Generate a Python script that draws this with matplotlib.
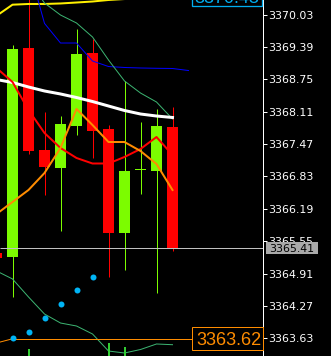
import matplotlib
matplotlib.use("Agg")
import matplotlib.pyplot as plt
from matplotlib.patches import Rectangle
from matplotlib.transforms import IdentityTransform

# ---------------- data ----------------
bar_idx = [-1, 0, 1, 2, 3, 4, 5, 6, 7, 8, 9, 10]
opens  = [3365.311, 3365.244, 3369.371, 3367.354, 3367.004, 3367.829, 3369.278, 3367.769, 3365.718, 3366.952, 3366.945, 3367.809]
highs  = [3365.400, 3369.431, 3370.450, 3368.106, 3368.026, 3369.741, 3369.545, 3367.843, 3368.719, 3367.908, 3368.165, 3368.204]
lows   = [3365.150, 3364.452, 3367.269, 3366.464, 3365.752, 3367.651, 3367.186, 3364.848, 3364.981, 3366.484, 3364.532, 3365.356]
closes = [3365.224, 3369.352, 3367.340, 3367.024, 3367.868, 3369.253, 3367.736, 3365.706, 3366.939, 3366.955, 3367.829, 3365.410]

yellow_idx = [-1, 0, 1, 2, 3, 4, 5, 6, 7, 8]
yellow_val = [3370.008, 3370.228, 3370.242, 3370.242, 3370.252, 3370.271, 3370.291, 3370.321, 3370.340, 3370.360]

blue_idx = [1, 2, 3, 4, 5, 6, 7, 8, 9, 10, 11]
blue_val = [3370.993, 3369.858, 3369.470, 3369.470, 3369.114, 3369.005, 3368.986, 3368.976, 3368.970, 3368.966, 3368.926]

env_up_idx = [1, 2, 3, 4, 5, 6, 7, 8, 9, 10]
env_up_val = [3370.716, 3370.261, 3370.024, 3369.866, 3369.589, 3369.134, 3368.719, 3368.481, 3368.303, 3367.967]

env_dn_idx = [-1, 0, 1, 2, 3, 4, 5, 6, 7, 8, 9, 10]
env_dn_val = [3364.961, 3364.803, 3364.447, 3364.110, 3363.932, 3363.873, 3363.715, 3363.378, 3363.339, 3363.408, 3363.517, 3363.503]

white_idx = [-1, 0, 1, 2, 3, 4, 5, 6, 7, 8, 9, 10]
white_val = [3368.748, 3368.689, 3368.600, 3368.521, 3368.462, 3368.392, 3368.313, 3368.224, 3368.135, 3368.066, 3368.026, 3367.997]

red_idx = [-1, 0, 1, 2, 3, 4, 5, 6, 7, 8, 9, 10]
red_val = [3368.976, 3368.699, 3368.145, 3367.690, 3367.394, 3367.196, 3367.087, 3367.087, 3367.216, 3367.374, 3367.611, 3367.255]

orange_idx = [-1, 0, 1, 2, 3, 4, 5, 6, 7, 8, 9, 10]
orange_val = [3366.088, 3366.326, 3366.563, 3366.899, 3367.394, 3368.165, 3367.848, 3367.512, 3367.512, 3367.334, 3367.077, 3366.563]

sar_idx = [0, 1, 2, 3, 4, 5]
sar_val = [3363.642, 3363.760, 3364.037, 3364.314, 3364.585, 3364.848]

hist_idx = [1, 6, 7]
hist_top = [3363.418, 3363.537, 3363.458]

level_idx = [-1, 0]
level_val = [3363.537, 3363.620]
level_price = 3363.62
bid_price = 3365.41
top_label_price = 3370.43

yticks = [3370.03, 3369.39, 3368.75, 3368.11, 3367.47, 3366.83, 3366.19,
          3365.55, 3364.91, 3364.27, 3363.63]

# ---------------- figure ----------------
W, H, DPI = 331, 356, 100
fig = plt.figure(figsize=(W / DPI, H / DPI), dpi=DPI, facecolor="black")
AX_W = 263
ax = fig.add_axes([0, 0, AX_W / W, 1])
ax.set_facecolor("black")
XMIN, XMAX = -0.78125, 15.65625
ax.set_xlim(XMIN, XMAX)
ax.set_ylim(3363.2796, 3370.3207)

PX = 72.0 / DPI  # points per pixel
BULL, BEAR = "#7CFC00", "#FF0000"
body_w = 11 / 16

for x, o, h, l, c in zip(bar_idx, opens, highs, lows, closes):
    col = BULL if c >= o else BEAR
    ax.vlines(x, l, h, color=col, lw=1 * PX, zorder=2)
    bottom = min(o, c)
    height = max(abs(c - o), 0.02)
    ax.bar(x, height, bottom=bottom, width=body_w, color=col, linewidth=0, zorder=3)

# indicator lines
ax.plot(yellow_idx, yellow_val, color="#FFF000", lw=2 * PX, zorder=4)
ax.plot(blue_idx, blue_val, color="#0000FF", lw=1 * PX, zorder=4)
ax.plot(env_up_idx, env_up_val, color="#3CB371", lw=1 * PX, zorder=4)
ax.plot(env_dn_idx, env_dn_val, color="#3CB371", lw=1 * PX, zorder=4)
ax.plot(white_idx, white_val, color="white", lw=3 * PX, zorder=5)
ax.plot(red_idx, red_val, color="#FF0000", lw=2 * PX, zorder=5)
ax.plot(orange_idx, orange_val, color="#FF8C00", lw=2 * PX, zorder=5)
ax.plot(sar_idx, sar_val, linestyle="none", marker="o", ms=6 * PX,
        color="#00B4F5", markeredgewidth=0, zorder=6)
ax.vlines(hist_idx, [3363.0] * len(hist_idx), hist_top, color="#32CD32", lw=2 * PX, zorder=4)

# level line and bid line
ax.plot(level_idx, level_val, color="#FF8C00", lw=1 * PX, zorder=4)
ax.hlines(level_price, level_idx[-1], XMAX, color="#FF8C00", lw=1 * PX, zorder=4)
ax.hlines(bid_price, XMIN, XMAX, color="#C0C0C0", lw=1 * PX, zorder=6)

# axes styling
for s in ["left", "top", "bottom"]:
    ax.spines[s].set_visible(False)
ax.spines["right"].set_color("white")
ax.spines["right"].set_linewidth(1 * PX)
ax.set_xticks([])
ax.yaxis.tick_right()
ax.set_yticks(yticks)
ax.set_yticklabels([f"{v:.2f}" for v in yticks])
ax.tick_params(axis="y", colors="white", direction="out", length=4 * PX,
               width=1 * PX, pad=0.6, labelsize=7.9)
for t in ax.get_yticklabels():
    t.set_fontfamily("DejaVu Sans")

fig.canvas.draw()

def disp_y(price):
    return ax.transData.transform((0, price))[1]

# orange level label
yc = disp_y(level_price)
fig.add_artist(Rectangle((192, yc - 11.2), 71, 23.3, transform=IdentityTransform(),
                         facecolor="black", edgecolor="#FF8C00", lw=1 * PX, zorder=10))
fig.text(229 / W, (yc - 6.3) / H, f"{level_price:.2f}", color="#FF8C00",
         fontsize=13, family="Liberation Sans", ha="center", va="baseline", zorder=11)

# top cyan label
yt = disp_y(top_label_price)
fig.add_artist(Rectangle((192.3, yt - 11.7), 70, 23.3, transform=IdentityTransform(),
                         facecolor="black", edgecolor="#00AEEF", lw=1.3 * PX, zorder=10))
fig.text(227 / W, (yt - 8.5) / H, f"{top_label_price:.2f}", color="#00AEEF",
         fontsize=13, family="Liberation Sans", ha="center", va="baseline", zorder=11)

# bid label
yb = disp_y(bid_price)
fig.add_artist(Rectangle((266, yb - 5.9), 52.3, 11.8, transform=IdentityTransform(),
                         facecolor="#A9A9A9", edgecolor="none", zorder=10))
fig.text(269.5 / W, yb / H, f"{bid_price:.2f}", color="black",
         fontsize=7.9, family="DejaVu Sans", ha="left", va="center_baseline", zorder=11)

fig.savefig("out.png", dpi=DPI, facecolor="black")
